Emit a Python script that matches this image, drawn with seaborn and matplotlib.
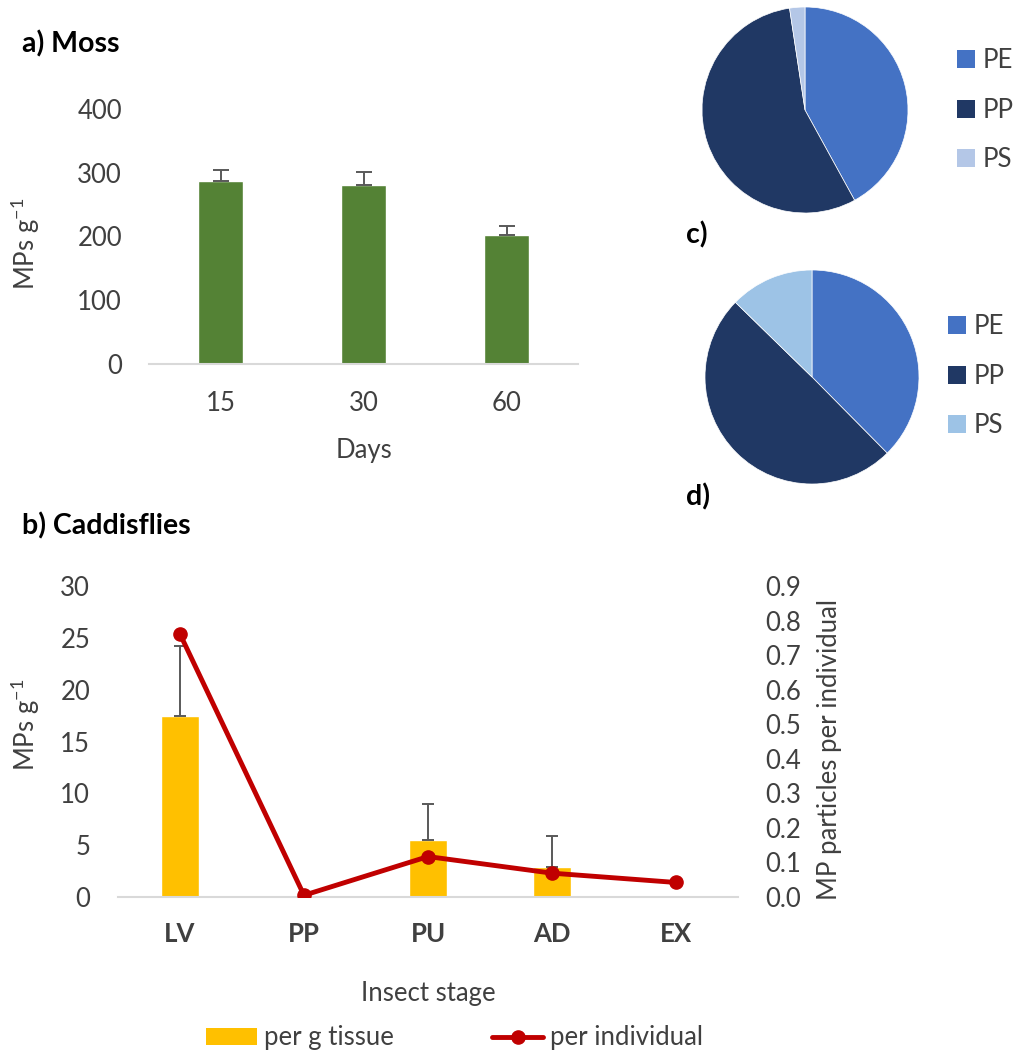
import numpy as np
import pandas as pd
import matplotlib
matplotlib.use("Agg")
import matplotlib.pyplot as plt
import seaborn as sns
from matplotlib.patches import Patch
from matplotlib.lines import Line2D

# ---------------- data ----------------
moss_days = ["15", "30", "60"]
moss_mean = [287, 281, 202]
moss_err = [17, 20, 14.5]

stages = ["LV", "PP", "PU", "AD", "EX"]
per_g_tissue = [17.5, 0.0, 5.5, 2.85, 0.0]
per_g_err = [6.7, 0.0, 3.45, 3.05, 0.0]
per_individual = [0.761, 0.005, 0.117, 0.069, 0.042]

polymers = ["PE", "PP", "PS"]
pie_c = [42.0, 55.6, 2.4]
pie_d = [37.6, 49.7, 12.7]

# ---------------- style ----------------
sns.set_theme(style="white")
plt.rcParams["font.family"] = ["Lato", "DejaVu Sans"]
TXT = "#404040"
FS = 18.5
TFS = 20.5

W, H = 1015, 1053
fig = plt.figure(figsize=(W / 100, H / 100), dpi=100)


def px_axes(x0, y0, x1, y1):
    return fig.add_axes([x0 / W, 1 - y1 / H, (x1 - x0) / W, (y1 - y0) / H])


def clean(ax):
    for s in ["top", "right", "left"]:
        ax.spines[s].set_visible(False)
    ax.spines["bottom"].set_color("#D9D9D9")
    ax.spines["bottom"].set_linewidth(1.5)
    ax.tick_params(axis="both", length=0, colors=TXT, labelsize=FS)


# ---------------- a) Moss ----------------
axa = px_axes(149, 109, 578, 364)
dfm = pd.DataFrame({"Days": moss_days, "MPs": moss_mean})
sns.barplot(data=dfm, x="Days", y="MPs", color="#548235", width=0.31,
            errorbar=None, ax=axa, saturation=1)
axa.errorbar(np.arange(len(moss_days)), moss_mean,
             yerr=[np.zeros(len(moss_err)), moss_err], fmt="none",
             ecolor="#595959", elinewidth=1.4, capsize=5.5, capthick=1.4)
axa.set_ylim(0, 400)
axa.set_xlim(-0.5, 2.5)
axa.set_yticks([0, 100, 200, 300, 400])
clean(axa)
axa.tick_params(axis="y", pad=19.5)
axa.tick_params(axis="x", pad=19.5)
axa.set_xlabel("Days", fontsize=FS, color=TXT)
axa.xaxis.set_label_coords(0.5, -0.29)
axa.set_ylabel("MPs g$^{\\mathregular{-1}}$", fontsize=FS, color=TXT)
axa.yaxis.set_label_coords(-0.249, 0.47)
fig.text(22 / W, 1 - 44 / H, "a) Moss", fontsize=TFS, fontweight="bold",
         color="black", va="center", ha="left")

# ---------------- b) Caddisflies ----------------
axb = px_axes(118, 586, 738, 897)
dfc = pd.DataFrame({"stage": stages, "tissue": per_g_tissue})
sns.barplot(data=dfc, x="stage", y="tissue", color="#FFC000", width=0.305,
            errorbar=None, ax=axb, saturation=1)
xpos = np.arange(len(stages))
mask = np.array(per_g_err) > 0
axb.errorbar(xpos[mask], np.array(per_g_tissue)[mask],
             yerr=[np.zeros(mask.sum()), np.array(per_g_err)[mask]], fmt="none",
             ecolor="#595959", elinewidth=1.4, capsize=4, capthick=1.4)
axb.set_ylim(0, 30)
axb.set_yticks(range(0, 31, 5))
clean(axb)
axb.tick_params(axis="y", pad=20)
axb.tick_params(axis="x", pad=18)
for lbl in axb.get_xticklabels():
    lbl.set_fontweight("bold")
axb.set_xlabel("Insect stage", fontsize=FS, color=TXT)
axb.xaxis.set_label_coords(0.5, -0.27)
axb.set_ylabel("MPs g$^{\\mathregular{-1}}$", fontsize=FS, color=TXT)
axb.yaxis.set_label_coords(-0.1226, 0.553)

axb2 = axb.twinx()
axb2.plot(xpos, per_individual, color="#C00000", linewidth=3.5,
          marker="o", markersize=9.5, zorder=5)
axb2.set_ylim(0, 0.9)
ticks_r = np.round(np.arange(0, 0.91, 0.1), 1)
axb2.set_yticks(ticks_r)
axb2.set_yticklabels([f"{v:.1f}" for v in ticks_r])
for s in ["top", "left", "right", "bottom"]:
    axb2.spines[s].set_visible(False)
axb2.tick_params(axis="y", length=0, colors=TXT, labelsize=FS, pad=19.5)
axb2.set_ylabel("MP particles per individual", fontsize=FS, color=TXT)
axb2.yaxis.set_label_coords(1.127, 0.473)
axb.set_xlim(-0.5, len(stages) - 0.5)
fig.text(22 / W, 1 - 526 / H, "b) Caddisflies", fontsize=TFS, fontweight="bold",
         color="black", va="center", ha="left")

handles = [Patch(facecolor="#FFC000", edgecolor="none"),
           Line2D([0], [0], color="#C00000", linewidth=3.5, marker="o", markersize=9.5)]
fig.legend(handles, ["per g tissue", "per individual"], loc="center left",
           bbox_to_anchor=(206 / W, 1 - 1038 / H), ncol=2, frameon=False,
           fontsize=FS, handlelength=2.0, handleheight=0.6, handletextpad=0.27,
           columnspacing=3.8, labelcolor=TXT, borderpad=0, borderaxespad=0)

# ---------------- pies ----------------
def draw_pie(cx, cy, r, vals, colors, leg_x, leg_y, label, label_y):
    ax = px_axes(cx - r, cy - r, cx + r, cy + r)
    ax.pie(vals, colors=colors, startangle=90, counterclock=False, radius=1,
           wedgeprops=dict(linewidth=0.5, edgecolor="white"))
    ax.set_xlim(-1, 1)
    ax.set_ylim(-1, 1)
    ax.set_aspect("equal")
    ax.axis("off")
    hs = [Patch(facecolor=c, edgecolor="none") for c in colors]
    fig.legend(hs, polymers, loc="center left",
               bbox_to_anchor=(leg_x / W, 1 - leg_y / H), frameon=False,
               fontsize=FS, handlelength=0.7, handleheight=0.7,
               handletextpad=0.3, labelspacing=0.95, labelcolor=TXT,
               borderpad=0, borderaxespad=0)
    fig.text(686 / W, 1 - label_y / H, label, fontsize=TFS, fontweight="bold",
             color="black", va="center", ha="left")


draw_pie(805, 110, 103, pie_c, ["#4472C4", "#203864", "#B4C7E7"], 957, 110, "c)", 235)
draw_pie(812, 377, 107, pie_d, ["#4472C4", "#203864", "#9DC3E6"], 948, 376, "d)", 497)

fig.savefig("out.png", dpi=100)
